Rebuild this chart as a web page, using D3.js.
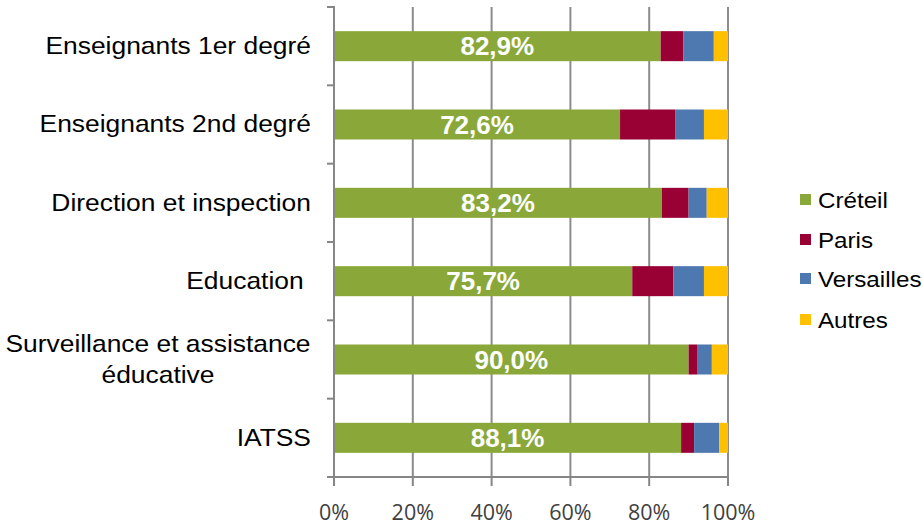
<!DOCTYPE html>
<html><head><meta charset="utf-8">
<script src="https://cdn.jsdelivr.net/npm/d3@7"></script>
<style>body{margin:0;background:#fff}svg{display:block}</style>
</head><body>
<script>
const categories = ["Enseignants 1er degré","Enseignants 2nd degré","Direction et inspection","Education ","Surveillance et assistance éducative","IATSS"];
const seriesNames = ["Créteil","Paris","Versailles","Autres"];
const creteil = [82.9, 72.6, 83.2, 75.7, 90.0, 88.1];
const paris = [5.8, 14.1, 6.8, 10.4, 2.3, 3.3];
const versailles = [7.7, 7.2, 4.6, 7.8, 3.6, 6.4];
const autres = [3.6, 6.1, 5.4, 6.1, 4.1, 2.2];
const xTicks = [0,20,40,60,80,100];
const colors = ["#8AA83A","#990033","#4E78B0","#FFC000"];

const W=922,H=529;
const svg=d3.select("body").append("svg").attr("width",W).attr("height",H);
const x=d3.scaleLinear().domain([0,100]).range([334,728]);
const y=d3.scaleBand().domain(categories).range([7,477]).paddingInner(0.617).paddingOuter(0.3085);
const stretch=(ax,k)=>`translate(${ax},0) scale(${k},1) translate(${-ax},0)`;

// gridlines
svg.append("g").selectAll("line").data(xTicks.slice(1)).join("line")
 .attr("x1",d=>x(d)).attr("x2",d=>x(d)).attr("y1",7).attr("y2",477)
 .attr("stroke","#8c8c8c").attr("stroke-width",2);

const data=categories.map((c,i)=>({cat:c,vals:[creteil[i],paris[i],versailles[i],autres[i]]}));
const stack=d3.stack().keys([0,1,2,3]).value((d,k)=>d.vals[k]);
const stacked=stack(data);
svg.append("g").selectAll("g").data(stacked).join("g").attr("fill",(d,i)=>colors[i])
 .selectAll("rect").data(d=>d).join("rect")
 .attr("x",d=>x(d[0])).attr("width",d=>x(d[1])-x(d[0]))
 .attr("y",d=>y(d.data.cat)).attr("height",y.bandwidth());

// axes
const step=y.step();
const ax=svg.append("g").attr("stroke","#868686").attr("stroke-width",2);
ax.append("line").attr("x1",334).attr("x2",334).attr("y1",6).attr("y2",478);
ax.append("line").attr("x1",333).attr("x2",729).attr("y1",477).attr("y2",477);
ax.selectAll(".yt").data(d3.range(categories.length+1)).join("line")
 .attr("x1",327).attr("x2",334).attr("y1",i=>7+i*step).attr("y2",i=>7+i*step);
ax.selectAll(".xt").data(xTicks).join("line")
 .attr("x1",d=>x(d)).attr("x2",d=>x(d)).attr("y1",477).attr("y2",486);

// x tick labels
svg.append("g").selectAll("text").data(xTicks).join("text")
 .attr("x",d=>x(d)).attr("y",520).attr("text-anchor","middle")
 .attr("font-family","Open Sans, sans-serif").attr("font-size",21.5).attr("fill","#404040")
 .text(d=>d+"%");

// category labels
const cl=svg.append("g").attr("font-family","Liberation Sans, Arial, sans-serif").attr("font-size",24).attr("fill","#000");
categories.forEach((c,i)=>{
  const cy=y(c)+y.bandwidth()/2;
  if(c.startsWith("Surveillance")){
    const t=cl.append("g").attr("transform",stretch(158,1.1)).append("text").attr("x",158).attr("text-anchor","middle");
    t.append("tspan").attr("x",158).attr("y",cy-7).text("Surveillance et assistance");
    t.append("tspan").attr("x",158).attr("y",cy+24).text("éducative");
  } else {
    cl.append("g").attr("transform",stretch(311,1.1)).append("text").attr("x",311).attr("y",cy+8).attr("text-anchor","end").style("white-space","pre").text(c);
  }
});

// data labels
svg.append("g").selectAll("text").data(data).join("text")
 .attr("x",(d)=>x(d.vals[0]/2)).attr("y",d=>y(d.cat)+y.bandwidth()/2+9)
 .attr("text-anchor","middle").attr("font-family","Liberation Sans, Arial, sans-serif")
 .attr("font-weight","bold").attr("font-size",26).attr("fill","#fff")
 .text(d=>d.vals[0].toFixed(1).replace(".",",")+"%");

// legend
const lg=svg.append("g");
const ly=[200,240,279,320];
seriesNames.forEach((s,i)=>{
  lg.append("rect").attr("x",800).attr("y",ly[i]-6).attr("width",11).attr("height",11).attr("fill",colors[i]);
  lg.append("g").attr("transform",stretch(818,1.1)).append("text").attr("x",818).attr("y",ly[i]+8).attr("font-family","Liberation Sans, Arial, sans-serif")
   .attr("font-size",22).attr("fill","#000").text(s);
});
</script>
</body></html>
